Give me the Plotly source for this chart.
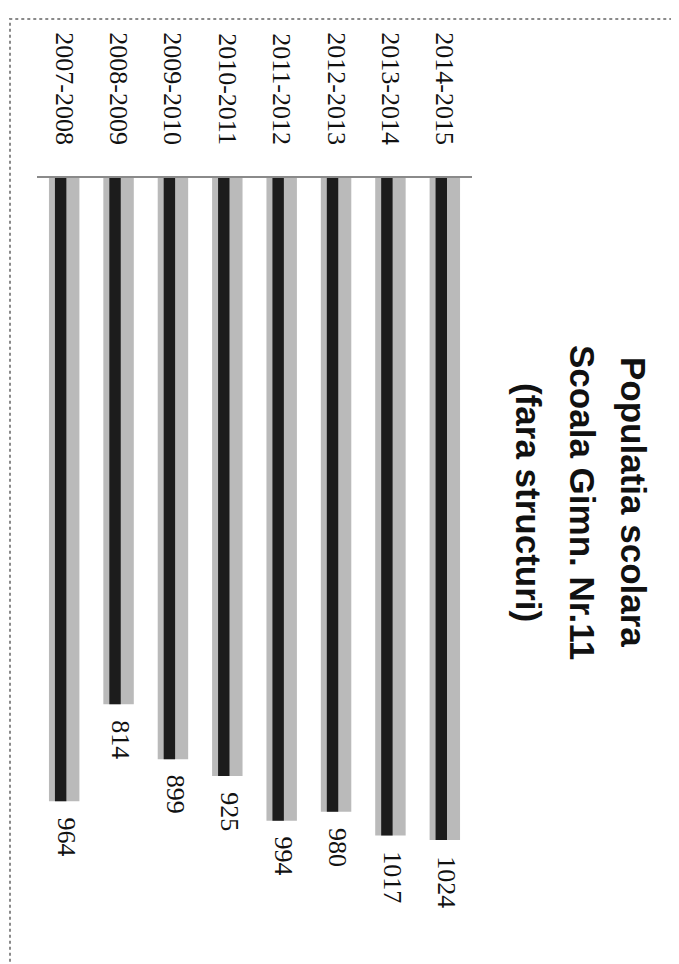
import plotly.graph_objects as go

categories = ["2007-2008", "2008-2009", "2009-2010", "2010-2011",
              "2011-2012", "2012-2013", "2013-2014", "2014-2015"]
values = [964, 814, 899, 925, 994, 980, 1017, 1024]
title_lines = ["Populatia scolara", "Scoala Gimn. Nr.11", "(fara structuri)"]

W, H = 679, 964

fig = go.Figure()
# outer gray body of each bar
fig.add_trace(go.Bar(
    x=categories, y=values, width=0.56,
    marker=dict(color="#bababa", line=dict(width=0)),
    hoverinfo="skip",
))
# dark core of each bar (shading)
fig.add_trace(go.Bar(
    x=categories, y=values, width=0.21, offset=-0.17,
    marker=dict(color="#1c1c1c", line=dict(width=0)),
    hoverinfo="skip",
))

# value labels below bar ends, rotated like the rest of the chart
for c, v in zip(categories, values):
    fig.add_annotation(
        x=c, y=v, xref="x", yref="y", text=str(v), textangle=90,
        showarrow=False, xanchor="center", yanchor="top", yshift=-14,
        xshift=2,
        font=dict(family="Liberation Serif", size=26, color="#111111"),
    )

fig.update_layout(
    width=W, height=H,
    margin=dict(l=0, r=0, t=0, b=0),
    paper_bgcolor="white", plot_bgcolor="white",
    barmode="overlay", showlegend=False,
    xaxis=dict(
        domain=[29 / W, 464 / W], side="top", type="category",
        tickangle=90, showgrid=False, ticks="", showline=True,
        linecolor="#8a8a8a", linewidth=2, ticklabelstandoff=22,
        tickfont=dict(family="Liberation Serif", size=26, color="#111111"),
    ),
    yaxis=dict(
        domain=[0, 1 - 170 / H], range=[1228, 0], visible=False,
        showgrid=False, zeroline=False,
    ),
)

xs = [625, 574, 520]
for line, xp in zip(title_lines, xs):
    fig.add_annotation(
        text="<b>%s</b>" % line, textangle=90, showarrow=False,
        xref="paper", yref="paper", x=xp / W, y=1 - 494 / H,
        xanchor="center", yanchor="middle",
        font=dict(family="Liberation Sans", size=35, color="#111111"),
    )

fig.add_shape(type="rect", xref="paper", yref="paper",
              x0=2 / W, x1=672 / W, y0=-0.02, y1=1 - 11 / H,
              line=dict(color="#8a8a8a", width=2, dash="dot"))

fig.write_html("out.html")
